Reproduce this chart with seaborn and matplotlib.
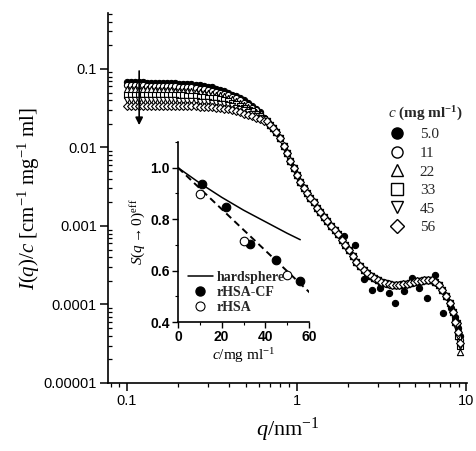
import numpy as np
import pandas as pd
import matplotlib
matplotlib.use("Agg")
import matplotlib.pyplot as plt
import seaborn as sns
from matplotlib.lines import Line2D
from matplotlib.ticker import FixedLocator, FixedFormatter, LogLocator, NullFormatter, MultipleLocator

# ---------------- data ----------------
series_labels = ["5.0", "11", "22", "33", "45", "56"]

q_low = [0.100, 0.106, 0.112, 0.118, 0.125, 0.132, 0.139, 0.147, 0.155, 0.164, 0.173, 0.183,
         0.193, 0.204, 0.215, 0.227, 0.240, 0.254, 0.268, 0.283, 0.299, 0.316, 0.334, 0.352,
         0.372, 0.393, 0.415, 0.439, 0.463, 0.489, 0.517, 0.546, 0.577, 0.610, 0.644]
I_low_5 = [.068, .068, .068, .068, .068, .067, .067, .067, .067, .067, .066, .066,
           .066, .065, .065, .064, .064, .063, .062, .061, .059, .058, .056, .054,
           .052, .050, .047, .045, .042, .040, .037, .034, .031, .028, .024]
I_low_11 = [.062, .062, .062, .062, .062, .061, .061, .061, .061, .061, .060, .060,
            .060, .059, .059, .058, .058, .057, .056, .055, .054, .053, .051, .050,
            .048, .046, .044, .042, .040, .037, .035, .032, .030, .027, .024]
I_low_22 = [.055, .055, .055, .055, .055, .055, .055, .054, .054, .054, .054, .054,
            .053, .053, .053, .052, .052, .051, .051, .050, .049, .048, .047, .046,
            .045, .043, .041, .039, .037, .035, .033, .030, .028, .026, .023]
I_low_33 = [.047, .047, .047, .047, .047, .047, .047, .047, .047, .047, .046, .046,
            .046, .046, .046, .045, .045, .045, .044, .044, .043, .043, .042, .041,
            .040, .039, .037, .036, .034, .032, .030, .029, .027, .025, .023]
I_low_45 = [.040, .040, .040, .040, .040, .040, .040, .040, .040, .040, .040, .040,
            .040, .039, .039, .039, .039, .039, .038, .038, .038, .037, .037, .036,
            .036, .035, .034, .032, .031, .030, .028, .027, .025, .024, .022]
I_low_56 = [.034, .034, .034, .034, .034, .034, .034, .034, .034, .034, .034, .034,
            .034, .034, .034, .034, .034, .034, .033, .033, .033, .033, .032, .032,
            .031, .031, .030, .029, .028, .027, .026, .025, .024, .023, .022]

q_high = [0.67, 0.70, 0.73, 0.76, 0.80, 0.84, 0.88, 0.92, 0.96, 1.00, 1.05, 1.10, 1.15,
          1.20, 1.26, 1.32, 1.38, 1.45, 1.52, 1.60, 1.68, 1.76, 1.85, 1.94, 2.04, 2.14,
          2.25, 2.36, 2.48, 2.60, 2.73, 2.87, 3.01, 3.16, 3.32, 3.49, 3.66, 3.85, 4.04,
          4.24, 4.45, 4.67, 4.90, 5.15, 5.40, 5.67, 5.96, 6.25, 6.57, 6.90, 7.24, 7.60,
          7.98, 8.38, 8.80]
I_high = [0.0215, 0.0195, 0.0175, 0.0155, 0.0130, 0.0105, 0.0085, 0.0068, 0.0054, 0.0044,
          0.0036, 0.0030, 0.0026, 0.0023, 0.0020, 0.0017, 0.0015, 0.0013, 0.00115, 0.00100,
          0.00090, 0.00078, 0.00067, 0.00058, 0.00049, 0.00041, 0.00035, 0.00031, 0.000275,
          0.000250, 0.000230, 0.000215, 0.000205, 0.000195, 0.000185, 0.000180, 0.000177,
          0.000176, 0.000177, 0.000180, 0.000184, 0.000189, 0.000193, 0.000197, 0.000201,
          0.000204, 0.000205, 0.000203, 0.000195, 0.000178, 0.000155, 0.000130, 0.000105,
          0.000080, 0.000058]

q_tail = [8.6, 8.9, 9.2]
I_tail_5 = [0.00007, 0.00005, 0.00004]
I_tail_11 = [0.00006, 0.000045, 0.000035]
I_tail_22 = [0.00006, 0.00004, 0.000025]
I_tail_33 = [0.00006, 0.00004, 0.00003]
I_tail_45 = [0.000055, 0.00004, 0.00003]
I_tail_56 = [0.00006, 0.000045, 0.000032]

# scattered extra points of the 5.0 mg/ml series at high q
q_extra_5 = [1.9, 2.2, 2.5, 2.8, 3.1, 3.5, 3.8, 4.3, 4.8, 5.3, 5.9, 6.5, 7.3, 8.1]
I_extra_5 = [0.00075, 0.00057, 0.00021, 0.000153, 0.00016, 0.00014, 0.000105, 0.00015,
             0.00022, 0.00016, 0.00012, 0.00024, 0.000078, 0.00009]

# inset
c_hs = [0, 10, 20, 30, 40, 50, 56]
S_hs = [1.0, 0.94, 0.885, 0.835, 0.79, 0.745, 0.72]
c_fit = [0, 61.5]
S_fit = [1.0, 0.505]
c_cf = [11, 22, 33, 45, 56]
S_cf = [0.938, 0.848, 0.704, 0.641, 0.56]
c_rhsa = [10, 30, 50]
S_rhsa = [0.898, 0.715, 0.582]

y_tick_vals = [1e-5, 1e-4, 1e-3, 1e-2, 1e-1]
y_tick_labels = ["0.00001", "0.0001", "0.001", "0.01", "0.1"]
x_tick_vals = [0.1, 1, 10]
x_tick_labels = ["0.1", "1", "10"]

# ---------------- build table ----------------
low_map = {"5.0": I_low_5, "11": I_low_11, "22": I_low_22, "33": I_low_33, "45": I_low_45, "56": I_low_56}
tail_map = {"5.0": I_tail_5, "11": I_tail_11, "22": I_tail_22, "33": I_tail_33, "45": I_tail_45, "56": I_tail_56}
rows = []
for lab in series_labels:
    qs = q_low + q_high + q_tail
    Is = low_map[lab] + I_high + tail_map[lab]
    if lab == "5.0":
        qs = qs + q_extra_5
        Is = Is + I_extra_5
    for qq, ii in zip(qs, Is):
        rows.append({"q": qq, "I": ii, "c": lab})
df = pd.DataFrame(rows)

styles = {"5.0": ("o", "black"), "11": ("o", "white"), "22": ("^", "white"),
          "33": ("s", "white"), "45": ("v", "white"), "56": ("D", "white")}

# ---------------- plotting ----------------
sns.set_theme(style="ticks")
plt.rcParams["font.family"] = ["Liberation Sans", "DejaVu Sans"]
plt.rcParams["mathtext.fontset"] = "custom"
plt.rcParams["mathtext.rm"] = "Liberation Serif"
plt.rcParams["mathtext.it"] = "Liberation Serif:italic"
plt.rcParams["mathtext.bf"] = "Liberation Serif:bold"

fig = plt.figure(figsize=(4.76, 4.51), dpi=100)
ax = fig.add_axes([108 / 476, 1 - 383 / 451, 359 / 476, 370 / 451])

for lab in series_labels:
    m, fc = styles[lab]
    sub = df[df["c"] == lab]
    sz = 16 if m == "D" else 20
    sns.scatterplot(data=sub, x="q", y="I", marker=m, color=fc, edgecolor="black",
                    linewidth=0.8, s=sz, ax=ax, legend=False)

ax.set_xscale("log")
ax.set_yscale("log")
ax.set_xlim(0.0773, 10.1)
ax.set_ylim(1e-5, 0.515)
for sp in ["top", "right"]:
    ax.spines[sp].set_visible(False)
for sp in ["left", "bottom"]:
    ax.spines[sp].set_color("black")
    ax.spines[sp].set_linewidth(1.2)

ax.yaxis.set_major_locator(FixedLocator(y_tick_vals))
ax.yaxis.set_major_formatter(FixedFormatter(y_tick_labels))
ax.yaxis.set_minor_locator(LogLocator(base=10, subs=np.arange(2, 10)))
ax.yaxis.set_minor_formatter(NullFormatter())
ax.xaxis.set_major_locator(FixedLocator(x_tick_vals))
ax.xaxis.set_major_formatter(FixedFormatter(x_tick_labels))
ax.xaxis.set_minor_locator(LogLocator(base=10, subs=np.arange(2, 10)))
ax.xaxis.set_minor_formatter(NullFormatter())
ax.tick_params(which="major", direction="out", length=6, width=1.1, color="black",
               labelsize=10.5, labelcolor="black", pad=2)
ax.tick_params(which="minor", direction="out", length=3, width=0.9, color="black")
ax.tick_params(axis="y", which="minor", direction="in", length=3)
ax.grid(False)

ax.set_ylabel(r"$I(q)/c$ [cm$^{-1}$ mg$^{-1}$ ml]", fontsize=15, family="Liberation Serif", color="black")
ax.yaxis.set_label_coords(-0.185, 0.5)
ax.set_xlabel(r"$q$/nm$^{-1}$", fontsize=16, family="Liberation Serif", color="black")
ax.xaxis.set_label_coords(0.5, -0.09)

# arrow
ax.annotate("", xy=(0.118, 0.0177), xytext=(0.118, 0.102),
            arrowprops=dict(arrowstyle="-|>", color="black", lw=1.2, mutation_scale=11))

# main legend
handles = []
for lab in series_labels:
    m, fc = styles[lab]
    handles.append(Line2D([], [], linestyle="none", marker=m, markersize=8 if m != "D" else 7.5,
                          markerfacecolor=fc, markeredgecolor="black", markeredgewidth=1.0))
leg = ax.legend(handles, series_labels, loc="upper left",
                bbox_to_anchor=(380 / 476, 1 - 97 / 451), bbox_transform=fig.transFigure,
                frameon=False, prop={"family": "Liberation Serif", "size": 11},
                handlelength=1.2, handletextpad=0.9, labelspacing=0.32, borderpad=0,
                title=r"$\mathbf{\mathit{c}}$ (mg ml$^{\mathbf{-1}}$)",
                title_fontproperties={"family": "Liberation Serif", "size": 11, "weight": "bold"})
leg._legend_box.align = "left"

# ---------------- inset ----------------
axi = fig.add_axes([178 / 476, 1 - 322 / 451, 131 / 476, 180 / 451])
axi.patch.set_alpha(0)
sns.lineplot(x=c_hs, y=S_hs, color="black", linewidth=1.1, ax=axi)
sns.lineplot(x=c_fit, y=S_fit, color="black", linewidth=1.4, linestyle=(0, (3.5, 2.2)), ax=axi)
sns.scatterplot(x=c_cf, y=S_cf, marker="o", color="black", edgecolor="black", s=38,
                linewidth=0.8, ax=axi, legend=False, zorder=3)
sns.scatterplot(x=c_rhsa, y=S_rhsa, marker="o", color="white", edgecolor="black", s=38,
                linewidth=0.8, ax=axi, legend=False, zorder=3)
axi.set_xlim(0, 60)
axi.set_ylim(0.4, 1.1)
for sp in ["top", "right"]:
    axi.spines[sp].set_visible(False)
for sp in ["left", "bottom"]:
    axi.spines[sp].set_color("black")
    axi.spines[sp].set_linewidth(1.2)
axi.xaxis.set_major_locator(FixedLocator([0, 20, 40, 60]))
axi.xaxis.set_minor_locator(MultipleLocator(10))
axi.yaxis.set_major_locator(FixedLocator([0.4, 0.6, 0.8, 1.0]))
axi.yaxis.set_minor_locator(MultipleLocator(0.1))
axi.yaxis.set_major_formatter(FixedFormatter(["0.4", "0.6", "0.8", "1.0"]))
axi.tick_params(which="major", direction="out", length=4, width=1.0, color="black",
                labelsize=10, labelcolor="black", pad=2)
axi.tick_params(which="minor", direction="out", length=2, width=0.8, color="black")
for t in axi.get_xticklabels() + axi.get_yticklabels():
    t.set_fontweight("bold")
axi.grid(False)
axi.set_xlabel(r"$c$/mg ml$^{-1}$", fontsize=11, family="Liberation Serif", color="black", labelpad=1)
axi.set_ylabel(r"$S(q\rightarrow0)^{\rm eff}$", fontsize=11, family="Liberation Serif", color="black", labelpad=2)

ih = [Line2D([], [], color="black", linewidth=1.1),
      Line2D([], [], linestyle="none", marker="o", markersize=6.5, markerfacecolor="black",
             markeredgecolor="black"),
      Line2D([], [], linestyle="none", marker="o", markersize=6.5, markerfacecolor="white",
             markeredgecolor="black", markeredgewidth=0.8)]
axi.legend(ih, ["hardsphere", "rHSA-CF", "rHSA"], loc="lower left", bbox_to_anchor=(0.01, 0.0),
           frameon=False, prop={"family": "Liberation Serif", "size": 10, "weight": "bold"},
           handlelength=1.8, handletextpad=0.3, labelspacing=0.15, borderpad=0.1)

fig.savefig("out.png", dpi=100, facecolor="white")
